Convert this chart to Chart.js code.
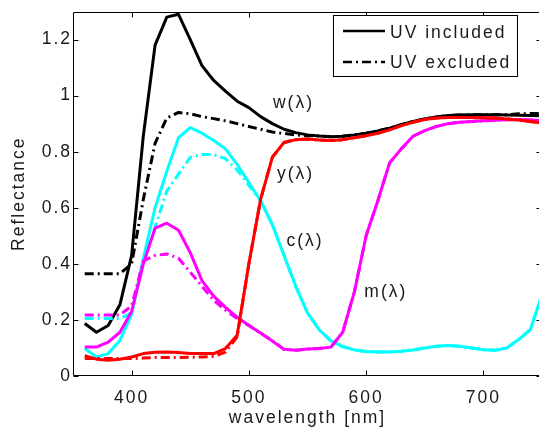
<!DOCTYPE html>
<html><head><meta charset="utf-8">
<script src="https://cdn.jsdelivr.net/npm/chart.js@4.4.0/dist/chart.umd.min.js"></script>
<style>html,body{margin:0;padding:0;overflow:hidden;background:#fff}#wrap{position:relative;width:542px;height:431px}</style>
</head><body><div id="wrap"><canvas id="c"></canvas></div>
<script>
const wavelengths = [360,370,380,390,400,410,420,430,440,450,460,470,480,490,500,510,520,530,540,550,560,570,580,590,600,610,620,630,640,650,660,670,680,690,700,710,720,730,740,750];
const wIncluded = [0.187,0.156,0.18,0.254,0.43,0.857,1.18,1.28,1.29,1.20,1.107,1.054,1.016,0.98,0.957,0.925,0.90,0.88,0.868,0.86,0.856,0.853,0.855,0.86,0.866,0.874,0.884,0.896,0.908,0.917,0.924,0.929,0.931,0.932,0.932,0.932,0.931,0.93,0.929,0.928];
const wExcluded = [0.365,0.365,0.365,0.365,0.40,0.63,0.83,0.92,0.94,0.935,0.925,0.918,0.91,0.90,0.89,0.88,0.87,0.865,0.86,0.857,0.856,0.853,0.855,0.86,0.866,0.874,0.884,0.896,0.908,0.917,0.924,0.929,0.931,0.932,0.932,0.932,0.932,0.935,0.936,0.936];
const cIncluded = [0.098,0.068,0.08,0.127,0.22,0.42,0.60,0.73,0.85,0.886,0.866,0.84,0.81,0.755,0.69,0.625,0.54,0.43,0.32,0.225,0.165,0.125,0.105,0.093,0.087,0.086,0.086,0.088,0.093,0.10,0.106,0.109,0.106,0.10,0.094,0.092,0.10,0.13,0.165,0.29];
const cExcluded = [0.205,0.205,0.205,0.205,0.225,0.41,0.53,0.66,0.72,0.78,0.79,0.79,0.775,0.735,0.68,0.625,0.54,0.43,0.32,0.225,0.165,0.125,0.105,0.093,0.087,0.086,0.086,0.088,0.093,0.10,0.106,0.109,0.106,0.10,0.094,0.092,0.10,0.13,0.165,0.29];
const mIncluded = [0.103,0.103,0.121,0.156,0.23,0.40,0.527,0.545,0.52,0.44,0.34,0.285,0.245,0.21,0.18,0.153,0.125,0.095,0.092,0.096,0.098,0.103,0.156,0.30,0.50,0.625,0.76,0.81,0.855,0.875,0.89,0.90,0.905,0.908,0.91,0.912,0.914,0.915,0.913,0.91];
const mExcluded = [0.218,0.218,0.218,0.218,0.25,0.41,0.43,0.435,0.42,0.37,0.32,0.27,0.235,0.205,0.18,0.153,0.125,0.095,0.092,0.096,0.098,0.103,0.156,0.30,0.50,0.625,0.76,0.81,0.855,0.875,0.89,0.90,0.905,0.908,0.91,0.912,0.914,0.915,0.913,0.91];
const yIncluded = [0.072,0.06,0.056,0.06,0.068,0.08,0.085,0.086,0.084,0.08,0.08,0.08,0.098,0.145,0.40,0.63,0.78,0.833,0.843,0.845,0.842,0.84,0.843,0.85,0.857,0.866,0.878,0.893,0.905,0.915,0.92,0.922,0.922,0.922,0.921,0.92,0.917,0.913,0.908,0.902];
const yExcluded = [0.062,0.062,0.062,0.062,0.062,0.064,0.066,0.066,0.066,0.067,0.068,0.07,0.085,0.14,0.40,0.63,0.78,0.833,0.843,0.845,0.842,0.84,0.843,0.85,0.857,0.866,0.878,0.893,0.905,0.915,0.92,0.922,0.922,0.922,0.921,0.92,0.917,0.913,0.908,0.902];
const xTickValues = [400,500,600,700];
const yTickValues = [0,0.2,0.4,0.6,0.8,1,1.2];
const legendLabels = ['UV included','UV excluded'];
const curveNames = ['w(λ)','y(λ)','c(λ)','m(λ)'];
const curveNameX = [520.5,524,532,598.5];
const curveNameY = [0.974,0.72,0.48,0.30];

const FONT = "'Liberation Sans', Arial, Helvetica, sans-serif";
const FS = 17.5;
const TXT = '#1a1a1a';
const DASH = [9,4,2,4];
const pts = arr => arr.map((v,i)=>({x:wavelengths[i], y:v}));
function ds(label, arr, color, dashed, order){
  return {label, data:pts(arr), borderColor:color, backgroundColor:color, borderWidth:3,
    borderDash: dashed?DASH:[], pointRadius:0, tension:0, fill:false, order,
    borderJoinStyle:'round', borderCapStyle:'butt'};
}
const spacing = {
  id:'spacing',
  beforeLayout(chart){ chart.ctx.letterSpacing='2px'; },
  beforeDraw(chart){ chart.ctx.letterSpacing='2px'; }
};
const frame = {
  id:'frame',
  afterDatasetsDraw(chart){
    const {ctx, chartArea:a, scales:{x,y}} = chart;
    ctx.save();
    ctx.letterSpacing='2px';
    ctx.strokeStyle='#000'; ctx.lineWidth=1; ctx.setLineDash([]);
    const L=Math.round(a.left)+0.5, R=Math.round(a.right)-0.5, T=Math.round(a.top)+0.5, B=Math.round(a.bottom)-0.5;
    ctx.beginPath(); ctx.rect(L,T,R-L,B-T); ctx.stroke();
    const tl=5;
    ctx.beginPath();
    xTickValues.forEach(v=>{const p=Math.round(x.getPixelForValue(v))+0.5; ctx.moveTo(p,B); ctx.lineTo(p,B-tl); ctx.moveTo(p,T); ctx.lineTo(p,T+tl);});
    yTickValues.forEach(v=>{const p=Math.round(y.getPixelForValue(v))+0.5; ctx.moveTo(L,p); ctx.lineTo(L+tl,p); ctx.moveTo(R,p); ctx.lineTo(R-tl,p);});
    ctx.stroke();
    ctx.fillStyle=TXT; ctx.font=FS+'px '+FONT; ctx.textAlign='left'; ctx.textBaseline='middle';
    curveNames.forEach((t,i)=>ctx.fillText(t, x.getPixelForValue(curveNameX[i]), y.getPixelForValue(curveNameY[i])));
    const bx=333.5, by=15.5, bw=184, bh=61;
    ctx.fillStyle='#fff'; ctx.fillRect(bx,by,bw,bh);
    ctx.strokeRect(bx,by,bw,bh);
    ctx.lineWidth=2.5; ctx.strokeStyle='#000';
    ctx.beginPath(); ctx.moveTo(343,31); ctx.lineTo(385,31); ctx.stroke();
    ctx.setLineDash(DASH); ctx.beginPath(); ctx.moveTo(343,62); ctx.lineTo(385,62); ctx.stroke();
    ctx.setLineDash([]);
    ctx.fillStyle=TXT;
    ctx.fillText(legendLabels[0], 390, 33);
    ctx.fillText(legendLabels[1], 390, 63);
    ctx.restore();
  }
};
Chart.defaults.font.family = FONT;
Chart.defaults.font.size = FS;
Chart.defaults.color = TXT;
new Chart(document.getElementById('c'), {
  type:'line',
  data:{datasets:[
    ds('y included', yIncluded, '#ff0000', false, 0),
    ds('y excluded', yExcluded, '#ff0000', true, 1),
    ds('m included', mIncluded, '#ff00ff', false, 2),
    ds('m excluded', mExcluded, '#ff00ff', true, 3),
    ds('c included', cIncluded, '#00ffff', false, 4),
    ds('c excluded', cExcluded, '#00ffff', true, 5),
    ds('w included', wIncluded, '#000000', false, 6),
    ds('w excluded', wExcluded, '#000000', true, 7)
  ]},
  options:{
    responsive:true, maintainAspectRatio:false, animation:false,
    layout:{padding:{top:8,left:0,right:0,bottom:0}},
    plugins:{legend:{display:false}, tooltip:{enabled:false}},
    scales:{
      x:{type:'linear', min:350, max:750,
        afterBuildTicks:s=>{s.ticks=xTickValues.map(v=>({value:v}));},
        afterFit:s=>{s.height=55;},
        grid:{display:false, drawTicks:false},
        border:{display:false},
        ticks:{padding:12, maxRotation:0, autoSkip:false, callback:v=>String(v), color:TXT},
        title:{display:true, text:'wavelength [nm]', color:TXT, padding:{top:0,bottom:2}, font:{size:FS}}
      },
      y:{type:'linear', min:0, max:1.3,
        afterBuildTicks:s=>{s.ticks=yTickValues.map(v=>({value:v}));},
        afterFit:s=>{s.width=73;},
        grid:{display:false, drawTicks:false},
        border:{display:false},
        ticks:{padding:1, autoSkip:false, callback:v=>String(Math.round(v*10)/10), color:TXT},
        title:{display:true, text:'Reflectance', color:TXT, padding:{top:9,bottom:0}, font:{size:FS}}
      }
    }
  },
  plugins:[spacing, frame]
});
</script></body></html>
